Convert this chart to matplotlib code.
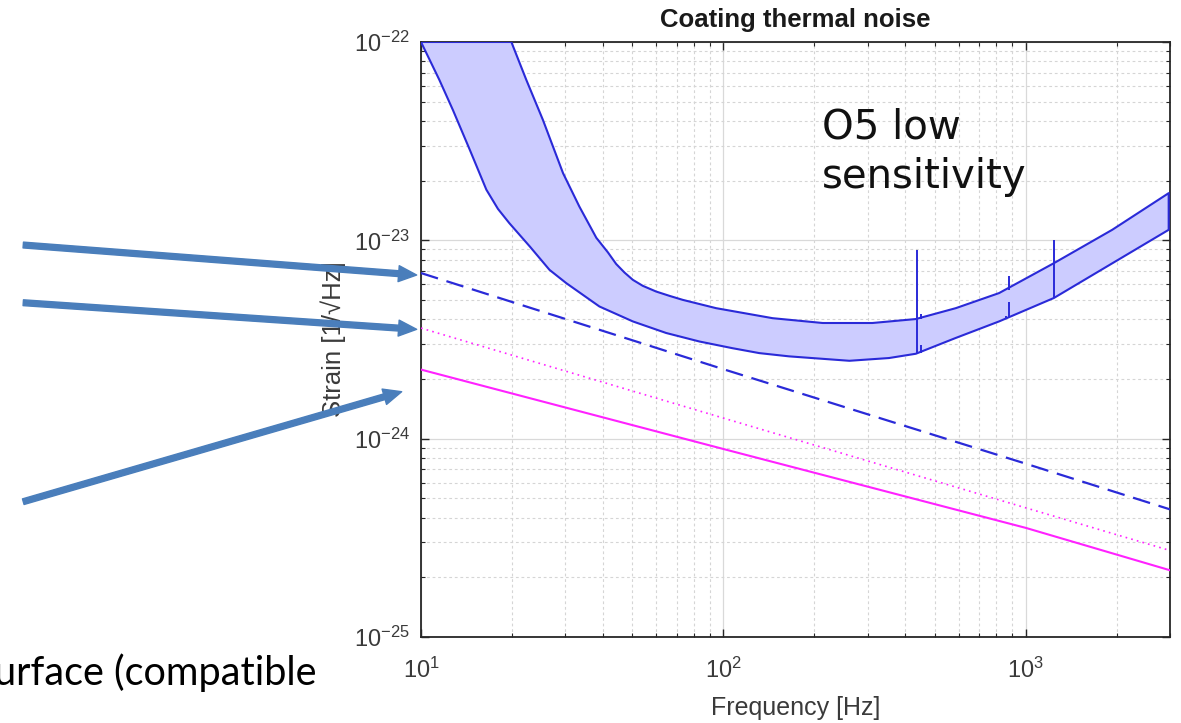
import numpy as np
import matplotlib
matplotlib.use("Agg")
import matplotlib.pyplot as plt
from matplotlib.ticker import LogLocator, NullFormatter

plt.rcParams['font.family'] = ['Liberation Sans', 'DejaVu Sans']
plt.rcParams['mathtext.fontset'] = 'custom'
plt.rcParams['mathtext.rm'] = 'Liberation Sans'
plt.rcParams['mathtext.it'] = 'Liberation Sans:italic'
plt.rcParams['mathtext.bf'] = 'Liberation Sans:bold'

# sensitivity band (O5 low): lower and upper envelopes
lower_freq = [10, 11.5, 12.75, 14.5, 16.45, 17.97, 19.6, 22.9, 26.6, 30.2, 38.9,
              50.2, 64.7, 83.3, 107, 131.5, 165, 261, 353, 433, 587, 816, 1239, 2970]
lower_strain = [1.0e-22, 6.44e-23, 4.54e-23, 2.86e-23, 1.80e-23, 1.44e-23, 1.22e-23,
                9.31e-24, 7.10e-24, 6.09e-24, 4.64e-24, 3.90e-24, 3.41e-24, 3.09e-24,
                2.86e-24, 2.70e-24, 2.60e-24, 2.47e-24, 2.55e-24, 2.68e-24, 3.22e-24,
                3.90e-24, 5.12e-24, 1.13e-23]
upper_freq = [19.9, 22.3, 25.3, 29.5, 33.4, 38.0, 41.5, 44.2, 47.1, 50.2, 54.1,
              59.9, 66.3, 73.4, 94.6, 145.5, 213, 311, 433, 587, 816, 1239, 1932, 2970]
upper_strain = [1.0e-22, 6.44e-23, 4.05e-23, 2.18e-23, 1.48e-23, 1.03e-23, 8.7e-24,
                7.6e-24, 6.88e-24, 6.32e-24, 5.90e-24, 5.52e-24, 5.25e-24, 5.01e-24,
                4.55e-24, 4.05e-24, 3.83e-24, 3.83e-24, 4.01e-24, 4.55e-24, 5.42e-24,
                7.67e-24, 1.13e-23, 1.73e-23]

# violin-mode resonance lines
spike_freq = [438, 450, 450, 859, 882, 882, 1239]
spike_lo = [2.68e-24, 2.70e-24, 4.03e-24, 4.0e-24, 4.05e-24, 5.6e-24, 5.12e-24]
spike_hi = [8.95e-24, 2.98e-24, 4.25e-24, 4.15e-24, 4.9e-24, 6.6e-24, 1.0e-23]

# coating thermal noise curves
ctn_freq = [10, 100, 1000, 3000]
ctn_dashed = [6.84e-24, 2.24e-24, 7.48e-25, 4.4e-25]
ctn_dotted = [3.61e-24, 1.27e-24, 4.48e-25, 2.73e-25]
ctn_solid = [2.23e-24, 8.87e-25, 3.55e-25, 2.17e-25]

band_edge = '#2a2ad8'
band_fill = '#ccccff'
magenta = '#ff22ff'
arrow_col = '#4a7ebb'
axis_col = '#262626'
label_col = '#3a3a3a'

fig = plt.figure(figsize=(11.81, 7.23), dpi=100)
ax = fig.add_axes([0.35648, 0.11895, 0.63421, 0.82296])

# band polygon: lower curve forward, upper curve back
poly_x = lower_freq + upper_freq[::-1]
poly_y = lower_strain + upper_strain[::-1]
ax.fill(poly_x, poly_y, facecolor=band_fill, edgecolor=band_edge, lw=1.5,
        joinstyle='round', zorder=3)
ax.vlines(spike_freq, spike_lo, spike_hi, color=band_edge, lw=1.4, zorder=4)

ax.plot(ctn_freq, ctn_dashed, color=band_edge, lw=1.6, dashes=(8, 4), zorder=4)
ax.plot(ctn_freq, ctn_dotted, color=magenta, lw=1.2, dashes=(1, 2.5), zorder=4)
ax.plot(ctn_freq, ctn_solid, color=magenta, lw=1.5, zorder=4)

ax.set_xscale('log')
ax.set_yscale('log')
ax.set_xlim(10, 3000)
ax.set_ylim(1e-25, 1e-22)
ax.xaxis.set_major_locator(LogLocator(base=10, numticks=10))
ax.yaxis.set_major_locator(LogLocator(base=10, numticks=10))
ax.xaxis.set_minor_locator(LogLocator(base=10, subs=np.arange(2, 10), numticks=20))
ax.yaxis.set_minor_locator(LogLocator(base=10, subs=np.arange(2, 10), numticks=20))
ax.xaxis.set_minor_formatter(NullFormatter())
ax.yaxis.set_minor_formatter(NullFormatter())

ax.grid(True, which='major', color='#d9d9d9', lw=0.9, ls='-', zorder=0)
ax.grid(True, which='minor', color='#d5d5d5', lw=0.8, ls=(0, (2.5, 2.5)), zorder=0)
ax.set_axisbelow(True)

ax.tick_params(which='both', direction='in', top=True, right=True,
               color=axis_col, labelcolor=label_col, labelsize=17)
ax.tick_params(which='major', length=6, width=1.0)
ax.tick_params(which='minor', length=3, width=0.8)
ax.tick_params(axis='x', pad=15)
ax.tick_params(axis='y', pad=8)
for sp in ax.spines.values():
    sp.set_color(axis_col)
    sp.set_linewidth(1.3)

ax.set_title('Coating thermal noise', fontsize=18.5, fontweight='bold',
             color='#1a1a1a', pad=11)
ax.set_xlabel('Frequency [Hz]', fontsize=18, color=label_col)
ax.set_ylabel('Strain [1/\u221aHz]', fontsize=18.5, color=label_col)
ax.xaxis.set_label_coords(0.5, -0.099)
ax.yaxis.set_label_coords(-0.100, 0.5)

fig.text(0.696, 0.8091, 'O5 low', fontsize=29, family='DejaVu Sans',
         color='#111111', va='baseline')
fig.text(0.696, 0.740, 'sensitivity', fontsize=29, family='DejaVu Sans',
         color='#111111', va='baseline')
fig.text(-0.005, 0.052, 'urface (compatible', fontsize=28.5, family=['Lato', 'DejaVu Sans'],
         color='black', va='baseline')

# pointer arrows from the side notes to the curves
arrow_tails = [(0.0197, 0.6611), (0.0197, 0.5813), (0.0197, 0.3061)]
arrow_tips = [(0.3528, 0.6196), (0.3528, 0.5445), (0.3401, 0.4582)]
for tail, tip in zip(arrow_tails, arrow_tips):
    ax.annotate('', xy=tip, xycoords='figure fraction',
                xytext=tail, textcoords='figure fraction',
                annotation_clip=False, zorder=10,
                arrowprops=dict(arrowstyle='simple,head_length=1.3,head_width=1.15,tail_width=0.42',
                                mutation_scale=10, color=arrow_col, shrinkA=0, shrinkB=0))

fig.savefig('out.png', dpi=100)
